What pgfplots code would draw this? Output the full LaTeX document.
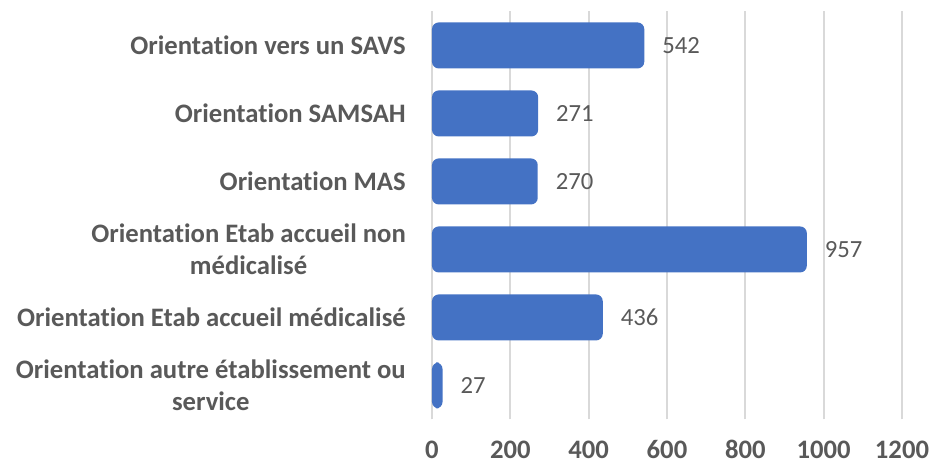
\documentclass[border=0pt]{standalone}
\usepackage{pgfplots}
\pgfplotsset{compat=1.18}
\usepackage{fontspec}
\setmainfont[Ligatures=NoCommon]{Carlito}
\definecolor{barblue}{HTML}{4472C4}
\definecolor{txtgrey}{HTML}{595959}
\definecolor{gridgrey}{HTML}{D9D9D9}
\begin{document}
\begin{tikzpicture}
\begin{axis}[
  scale only axis,
  width=352.5pt, height=306pt,
  xbar, bar width=34.5pt,
  xmin=0, xmax=1200,
  ymin=-0.5, ymax=5.5,
  xtick={0,200,...,1200},
  ytick={0,1,2,3,4,5},
  yticklabels={{Orientation autre établissement ou\\service},
               {Orientation Etab accueil médicalisé},
               {Orientation Etab accueil non\\médicalisé},
               {Orientation MAS},
               {Orientation SAMSAH},
               {Orientation vers un SAVS}},
  yticklabel style={align=center, font=\fontsize{20}{24}\selectfont\bfseries, text=txtgrey, inner sep=0pt, xshift=-19.5pt},
  xticklabel style={font=\fontsize{20}{24}\selectfont\bfseries, text=txtgrey, anchor=base, inner sep=0pt, yshift=-29.5pt},
  /pgf/number format/assume math mode=true,
  /pgf/number format/1000 sep={},
  xmajorgrids, major grid style={gridgrey, line width=1.4pt},
  axis x line*=bottom,
  x axis line style={draw=none},
  axis y line*=left,
  y axis line style={gridgrey, line width=1.4pt, -},
  major tick length=0pt,
  tick style={draw=none},
  nodes near coords,
  nodes near coords style={font=\fontsize{18.5}{22}\selectfont, text=txtgrey, anchor=west, xshift=10pt},
  clip=false,
]
\addplot[fill=barblue, draw=none, rounded corners=5pt] coordinates {
  (27,0) (436,1) (957,2) (270,3) (271,4) (542,5)
};
\end{axis}
\path[use as bounding box] ([xshift=-324pt,yshift=-34.1pt]current axis.south west) rectangle ([xshift=24pt,yshift=8.6pt]current axis.north east);
\end{tikzpicture}
\end{document}
